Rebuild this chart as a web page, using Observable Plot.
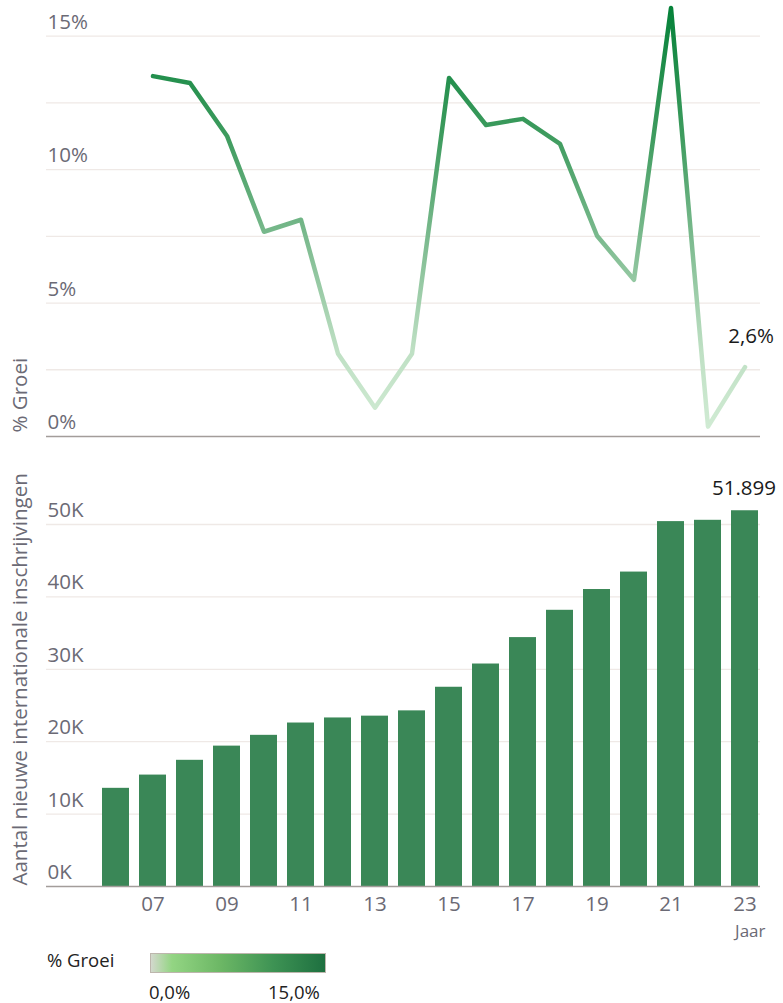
<!DOCTYPE html>
<html>
<head>
<meta charset="utf-8">
<script src="https://cdn.jsdelivr.net/npm/d3@7"></script>
<script src="https://cdn.jsdelivr.net/npm/@observablehq/plot@0.6"></script>
<style>
  html, body { margin: 0; padding: 0; background: #fff; }
  body { width: 783px; font-family: "Open Sans", Lato, sans-serif; }
  #top svg, #bottom svg { display: block; }
  #legend { position: relative; height: 57px; }
  #legend .title { position: absolute; left: 47px; top: 1px; font-size: 18.5px; color: #222; }
  #legend .bar { position: absolute; left: 150px; top: 7px; width: 174px; height: 18px; border: 1px solid #bdb6ad;
    background: linear-gradient(to right, #d3d8cd 0%, #93d583 12%, #6cb765 40%, #3e9354 70%, #1e7040 100%); }
  #legend .l0 { position: absolute; left: 149px; top: 33px; font-size: 18.5px; color: #222; }
  #legend .l1 { position: absolute; left: 268px; top: 33px; font-size: 18.5px; color: #222; }
</style>
</head>
<body>
<div id="top"></div>
<div id="bottom"></div>
<div id="legend">
  <div class="title">% Groei</div>
  <div class="bar"></div>
  <div class="l0">0,0%</div>
  <div class="l1">15,0%</div>
</div>
<script>
const years = [2006, 2007, 2008, 2009, 2010, 2011, 2012, 2013, 2014, 2015, 2016, 2017, 2018, 2019, 2020, 2021, 2022, 2023];
const registrations = [13560, 15390, 17430, 19390, 20880, 22580, 23280, 23530, 24260, 27520, 30730, 34380, 38150, 41020, 43430, 50400, 50580, 51899];
const growthYears = [2007, 2008, 2009, 2010, 2011, 2012, 2013, 2014, 2015, 2016, 2017, 2018, 2019, 2020, 2021, 2022, 2023];
const growth = [13.5, 13.24, 11.26, 7.67, 8.12, 3.1, 1.08, 3.1, 13.43, 11.67, 11.9, 10.96, 7.52, 5.87, 16.05, 0.37, 2.6];
const growthTicks = [0, 5, 10, 15];
const growthGrid = [2.5, 5, 7.5, 10, 12.5, 15];
const countTicks = [0, 10000, 20000, 30000, 40000, 50000];
const countGrid = [10000, 20000, 30000, 40000, 50000];
const xTickYears = [2007, 2009, 2011, 2013, 2015, 2017, 2019, 2021, 2023];

const barData = years.map((y, i) => ({year: y, value: registrations[i]}));
const lineData = growthYears.map((y, i) => ({year: y, value: growth[i]}));

const W = 783;
const xScale = {type: "band", domain: years, range: [89.3, 769.9], padding: 0.275};
const tickColor = "#6b6a75";
const gridColor = "#efe9e6";
const baseColor = "#a39d9a";
const FONT = 20.5;
const FAMILY = "'Open Sans', Lato, sans-serif";

const gradientDefs = (index, scales) => {
  const y0 = scales.y(0), y1 = scales.y(16);
  const svg = d3.create("svg:g");
  const g = svg.append("defs").append("linearGradient")
    .attr("id", "growth-gradient")
    .attr("gradientUnits", "userSpaceOnUse")
    .attr("x1", 0).attr("x2", 0).attr("y1", y0).attr("y2", y1);
  [[0, "#d2ecd5"], [0.2, "#bfe0c4"], [0.45, "#7fbc91"], [0.7, "#3f9c5f"], [1, "#06823a"]]
    .forEach(([o, c]) => g.append("stop").attr("offset", o).attr("stop-color", c));
  return svg.node();
};

const topChart = Plot.plot({
  width: W,
  height: 448,
  marginLeft: 46,
  marginRight: 23,
  marginTop: 35.6,
  marginBottom: 12,
  style: {fontFamily: FAMILY, fontSize: FONT + "px", background: "#fff"},
  x: {...xScale, axis: null},
  y: {domain: [0, 15], axis: null},
  marks: [
    gradientDefs,
    Plot.ruleY(growthGrid, {stroke: gridColor, strokeWidth: 1.3}),
    Plot.ruleY([0], {stroke: baseColor, strokeWidth: 1.5}),
    Plot.axisY(growthTicks, {anchor: "left", label: null, tickSize: 0, tickPadding: 0, textAnchor: "start", dx: 1, dy: -14,
      tickFormat: d => d + "%", fill: tickColor, fontSize: FONT}),
    Plot.text(["% Groei"], {frameAnchor: "bottom-left", rotate: -90, textAnchor: "start", dx: -20, dy: -4,
      fill: tickColor, fontSize: FONT}),
    Plot.line(lineData, {x: "year", y: "value", stroke: "url(#growth-gradient)", strokeWidth: 4.5,
      strokeLinejoin: "round", strokeLinecap: "round"}),
    Plot.text(lineData.filter(d => d.year === 2023), {x: "year", y: "value", text: d => d.value.toFixed(1).replace(".", ",") + "%",
      dy: -31, dx: 6, fill: "#1a1a1a", fontSize: FONT})
  ]
});
document.getElementById("top").append(topChart);

const bottomChart = Plot.plot({
  width: W,
  height: 498,
  marginLeft: 46,
  marginRight: 23,
  marginTop: 76,
  marginBottom: 60,
  style: {fontFamily: FAMILY, fontSize: FONT + "px", background: "#fff"},
  x: {...xScale, axis: null},
  y: {domain: [0, 50000], axis: null},
  marks: [
    Plot.ruleY(countGrid, {stroke: gridColor, strokeWidth: 1.3}),
    Plot.barY(barData, {x: "year", y: "value", fill: "#3a8757"}),
    Plot.ruleY([0], {stroke: baseColor, strokeWidth: 1.5}),
    Plot.axisY(countTicks, {anchor: "left", label: null, tickSize: 0, tickPadding: 0, textAnchor: "start", dx: 1, dy: -14,
      tickFormat: d => (d / 1000) + "K", fill: tickColor, fontSize: FONT}),
    Plot.axisX(xTickYears, {anchor: "bottom", label: null, tickSize: 0, tickPadding: 10, tickFormat: d => String(d).slice(2),
      fill: tickColor, fontSize: FONT}),
    Plot.text(["Jaar"], {frameAnchor: "bottom-right", textAnchor: "end", dx: 5, dy: 50, fill: tickColor, fontSize: 17}),
    Plot.text(["Aantal nieuwe internationale inschrijvingen"], {frameAnchor: "bottom-left", rotate: -90, textAnchor: "start",
      dx: -20, dy: -1, fill: tickColor, fontSize: FONT}),
    Plot.text(barData.filter(d => d.year === 2023), {x: "year", y: "value", text: d => d3.format(",")(d.value).replace(",", "."),
      dy: -22, dx: -1, fill: "#1a1a1a", fontSize: FONT})
  ]
});
document.getElementById("bottom").append(bottomChart);
</script>
</body>
</html>
